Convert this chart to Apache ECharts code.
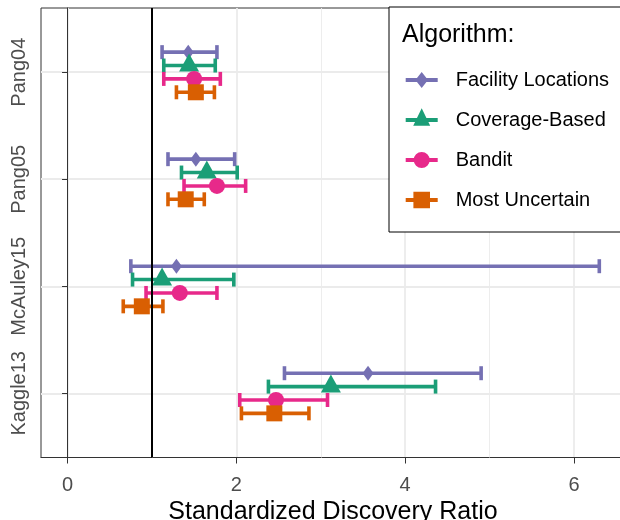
<!DOCTYPE html>
<html><head><meta charset="utf-8">
<script src="https://cdn.jsdelivr.net/npm/echarts@6/dist/echarts.min.js"></script>
<style>html,body{margin:0;padding:0;background:#fff}#c{width:620px;height:520px}</style>
</head><body><div id="c"></div>
<script>
// ---- data (category order bottom -> top) ----
const categories = ['Kaggle13', 'McAuley15', 'Pang05', 'Pang04'];
const algorithms = ['Facility Locations', 'Coverage-Based', 'Bandit', 'Most Uncertain'];

const facilityMid  = [3.56, 1.29, 1.52, 1.43];
const facilityLow  = [2.57, 0.75, 1.19, 1.12];
const facilityHigh = [4.90, 6.30, 1.98, 1.77];

const coverageMid  = [3.12, 1.12, 1.65, 1.44];
const coverageLow  = [2.38, 0.77, 1.35, 1.14];
const coverageHigh = [4.36, 1.97, 2.01, 1.75];

const banditMid  = [2.47, 1.33, 1.77, 1.50];
const banditLow  = [2.04, 0.93, 1.38, 1.14];
const banditHigh = [3.08, 1.77, 2.11, 1.81];

const uncertainMid  = [2.45, 0.88, 1.40, 1.52];
const uncertainLow  = [2.06, 0.66, 1.19, 1.29];
const uncertainHigh = [2.86, 1.13, 1.62, 1.74];

const xTicks = [0, 2, 4, 6];
const xMinorTicks = [1, 3, 5];
const referenceLine = 1;
const xTitle = 'Standardized Discovery Ratio';
const legendTitle = 'Algorithm:';

// ---- styling ----
const FONT = '"Liberation Sans", Arial, sans-serif';
const colors = ['#7570B3', '#1B9E77', '#E7298A', '#D95F02'];
const symbols = ['diamond', 'triangle', 'circle', 'rect'];
const symbolSizes = [[11, 15], [20, 18], 16, 16];
const symbolOffsets = [[0, 0], [0, -3], [0, 0], [0, 0]];
const dodge = 0.125;

const mids = [facilityMid, coverageMid, banditMid, uncertainMid];
const lows = [facilityLow, coverageLow, banditLow, uncertainLow];
const highs = [facilityHigh, coverageHigh, banditHigh, uncertainHigh];
const catPos = categories.map((c, i) => i + 1);

const anchor = 'M0,0L0.01,0L0,0.01Z M45,24L44.99,24L45,23.99Z ';
const bar = 'M0,10L32,10L32,14L0,14Z ';
const icons = [
  'path://' + anchor + bar + 'M16,4L22.3,12L16,20L9.7,12Z',
  'path://' + anchor + bar + 'M16,0.3L24.5,17.7L7.5,17.7Z',
  'path://' + anchor + bar + 'M8,12A8,8 0 1,1 24,12A8,8 0 1,1 8,12Z',
  'path://' + anchor + bar + 'M7.7,3.7L24.3,3.7L24.3,20.3L7.7,20.3Z'
];

function renderErr(params, api) {
  const y = api.value(2);
  const lo = api.coord([api.value(0), y]);
  const hi = api.coord([api.value(1), y]);
  const h = 7;
  const st = { stroke: api.visual('color'), lineWidth: 3.6, lineCap: 'butt' };
  return { type: 'group', children: [
    { type: 'line', shape: { x1: lo[0], y1: lo[1], x2: hi[0], y2: hi[1] }, style: st },
    { type: 'line', shape: { x1: lo[0], y1: lo[1] - h, x2: lo[0], y2: lo[1] + h }, style: st },
    { type: 'line', shape: { x1: hi[0], y1: hi[1] - h, x2: hi[0], y2: hi[1] + h }, style: st }
  ]};
}

const series = [];
series.push({
  type: 'line', data: [], silent: true, z: 1,
  markLine: { silent: true, symbol: 'none', z: 1, label: { show: false },
    lineStyle: { color: '#EBEBEB', width: 0.9, type: 'solid' },
    data: xMinorTicks.map(v => ({ xAxis: v })) }
});
algorithms.forEach((name, a) => {
  const off = (1.5 - a) * dodge;
  series.push({
    name, type: 'custom', z: 2, silent: true,
    itemStyle: { color: colors[a] },
    encode: { x: [0, 1], y: 2 },
    renderItem: renderErr,
    data: catPos.map((p, i) => [lows[a][i], highs[a][i], p + off])
  });
});
algorithms.forEach((name, a) => {
  const off = (1.5 - a) * dodge;
  series.push({
    name, type: 'scatter', z: 3, silent: true,
    symbol: symbols[a], symbolSize: symbolSizes[a], symbolOffset: symbolOffsets[a],
    itemStyle: { color: colors[a], opacity: 1 },
    data: catPos.map((p, i) => [mids[a][i], p + off])
  });
});
series.push({
  type: 'line', data: [], silent: true, z: 10,
  markLine: { silent: true, symbol: 'none', z: 10, label: { show: false },
    lineStyle: { color: '#000', width: 2, type: 'solid' },
    data: [{ xAxis: referenceLine }] }
});

const chart = echarts.init(document.getElementById('c'), null, { renderer: 'canvas' });
chart.setOption({
  animation: false,
  backgroundColor: '#fff',
  textStyle: { fontFamily: FONT },
  grid: { left: 41, top: 8, width: 584, height: 449.5, show: true,
    containLabel: false, outerBoundsMode: 'none',
    borderColor: '#333', borderWidth: 1, backgroundColor: 'transparent' },
  xAxis: {
    type: 'value', min: -0.3145, max: 6.6045,
    name: xTitle, nameLocation: 'middle', nameGap: 34,
    nameTextStyle: { fontSize: 25, color: '#000', fontFamily: FONT },
    axisLine: { show: true, lineStyle: { color: '#333', width: 1 } },
    axisTick: { show: true, length: 6, customValues: xTicks, lineStyle: { color: '#333', width: 1 } },
    axisLabel: { customValues: xTicks, fontSize: 20, color: '#4D4D4D', margin: 17.5, fontFamily: FONT },
    splitLine: { show: true, lineStyle: { color: '#EBEBEB', width: 1.8 } }
  },
  yAxis: {
    type: 'value', min: 0.4, max: 4.6,
    axisLine: { show: true, lineStyle: { color: '#333', width: 1 } },
    axisTick: { show: true, length: 5.5, customValues: catPos, lineStyle: { color: '#333', width: 1 } },
    axisLabel: { customValues: catPos, rotate: 90, fontSize: 20, color: '#4D4D4D', margin: 11.6,
      fontFamily: FONT, formatter: v => categories[Math.round(v) - 1] || '' },
    splitLine: { show: true, lineStyle: { color: '#EBEBEB', width: 1.8 } }
  },
  legend: {
    orient: 'vertical', left: 389, top: 7,
    padding: [61, 22, 20, 16.7],
    itemWidth: 45, itemHeight: 24, itemGap: 16,
    borderColor: '#000', borderWidth: 1, backgroundColor: '#fff',
    selectedMode: false,
    textStyle: { fontSize: 20, color: '#000', fontFamily: FONT },
    data: algorithms.map((n, i) => ({ name: n, icon: icons[i] }))
  },
  graphic: [{
    type: 'text', x: 402, y: 35, z: 100,
    style: { text: legendTitle, fontSize: 25, fontFamily: FONT, fill: '#000', align: 'left', verticalAlign: 'middle' }
  }],
  series
});
</script>
</body></html>
